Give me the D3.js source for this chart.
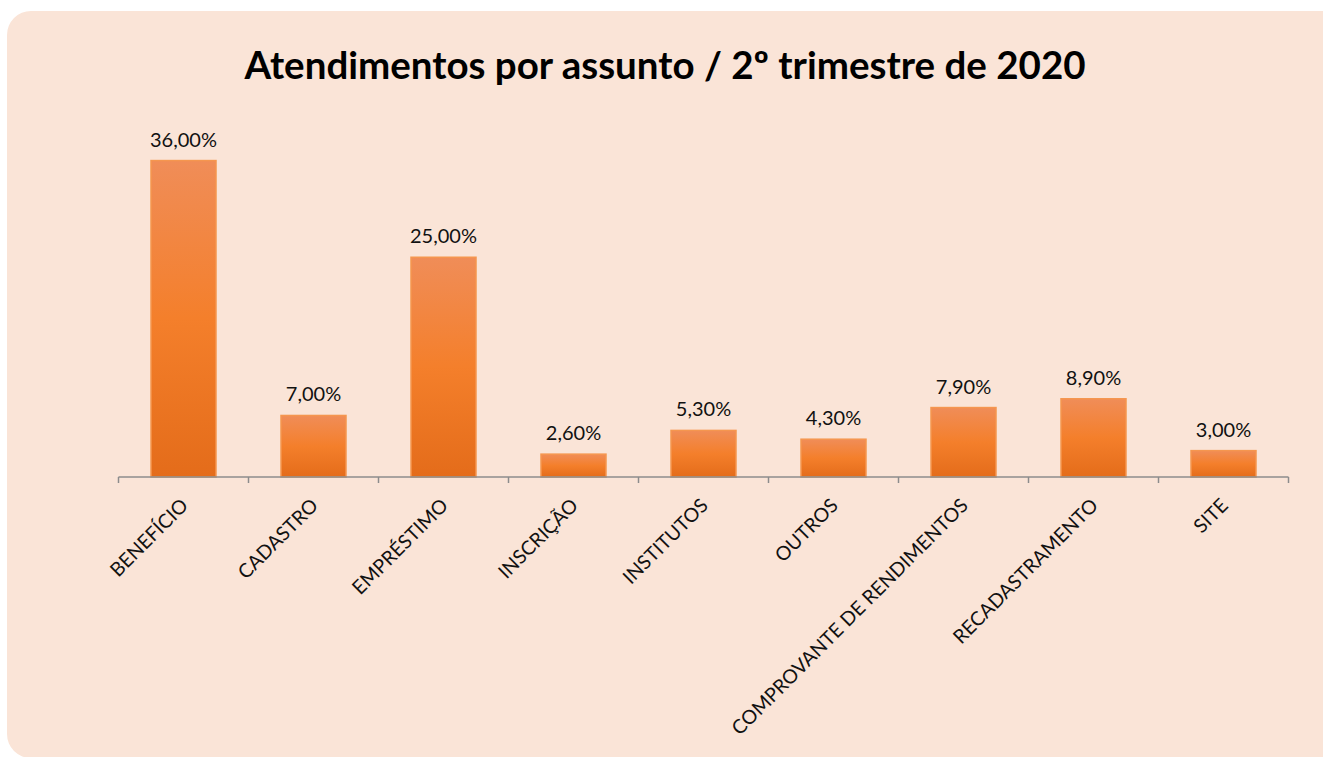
<!DOCTYPE html>
<html>
<head>
<meta charset="utf-8">
<script src="https://cdn.jsdelivr.net/npm/d3@7"></script>
<style>
  html, body { margin: 0; padding: 0; background: #ffffff; }
  svg { display: block; }
</style>
</head>
<body>
<svg id="chart"></svg>
<script>
// Atendimentos por assunto - 2º trimestre de 2020

const categorias = ["BENEFÍCIO", "CADASTRO", "EMPRÉSTIMO", "INSCRIÇÃO", "INSTITUTOS",
    "OUTROS", "COMPROVANTE DE RENDIMENTOS", "RECADASTRAMENTO", "SITE"];
const valores = [0.36, 0.07, 0.25, 0.026, 0.053, 0.043, 0.079, 0.089, 0.03];
const titulo = "Atendimentos por assunto / 2º trimestre de 2020";

const width = 1323;
const height = 757;
const margin = { top: 125.4, left: 118.5, right: 34.5, bottom: 280 };
const baseY = 477;

const svg = d3.select("#chart")
    .attr("width", width)
    .attr("height", height);

// Fond arrondi
svg.append("rect")
    .attr("x", 7)
    .attr("y", 11)
    .attr("width", width + 20)
    .attr("height", height - 11 + 1)
    .attr("rx", 24)
    .attr("fill", "#fae4d7");

// Dégradé des barres
const grad = svg.append("defs").append("linearGradient")
    .attr("id", "barGrad")
    .attr("x1", 0).attr("y1", 0).attr("x2", 0).attr("y2", 1);
grad.append("stop").attr("offset", "0%").attr("stop-color", "#f08d58");
grad.append("stop").attr("offset", "50%").attr("stop-color", "#f47f2b");
grad.append("stop").attr("offset", "100%").attr("stop-color", "#e46c1a");

// Titre
svg.append("text")
    .attr("x", 665)
    .attr("y", 79)
    .attr("text-anchor", "middle")
    .style("font-family", "Lato, 'Open Sans', sans-serif")
    .style("font-weight", "bold")
    .style("font-size", "38.5px")
    .attr("fill", "#000")
    .text(titulo);

// Echelles
const x = d3.scaleBand()
    .domain(categorias)
    .range([margin.left, width - margin.right])
    .paddingInner(0)
    .paddingOuter(0);

const y = d3.scaleLinear()
    .domain([0, 0.4])
    .range([baseY, margin.top]);

const barW = x.bandwidth() / 2;

// Barres
svg.selectAll(".bar")
    .data(categorias)
    .enter()
    .append("rect")
    .attr("class", "bar")
    .attr("x", d => x(d) + x.bandwidth() / 2 - barW / 2)
    .attr("y", (d, i) => y(valores[i]))
    .attr("width", barW)
    .attr("height", (d, i) => baseY - y(valores[i]))
    .attr("fill", "url(#barGrad)")
    .attr("stroke", "#f5964f")
    .attr("stroke-width", 1.5);

// Axe horizontal
svg.append("line")
    .attr("x1", x.range()[0])
    .attr("x2", x.range()[1])
    .attr("y1", baseY)
    .attr("y2", baseY)
    .attr("stroke", "#8c8c8c")
    .attr("stroke-width", 1.5);

const tickPos = categorias.map(d => x(d)).concat([x.range()[1]]);
svg.selectAll(".tick")
    .data(tickPos)
    .enter()
    .append("line")
    .attr("x1", d => d)
    .attr("x2", d => d)
    .attr("y1", baseY)
    .attr("y2", baseY + 6)
    .attr("stroke", "#8c8c8c")
    .attr("stroke-width", 1.5);

// Etiquettes de valeurs
const fmt = v => (v * 100).toFixed(2).replace(".", ",") + "%";
svg.selectAll(".val")
    .data(categorias)
    .enter()
    .append("text")
    .attr("class", "val")
    .attr("x", d => x(d) + x.bandwidth() / 2)
    .attr("y", (d, i) => y(valores[i]) - 14)
    .attr("text-anchor", "middle")
    .style("font-family", "Lato, 'Open Sans', sans-serif")
    .style("font-size", "20px")
    .attr("fill", "#111")
    .text((d, i) => fmt(valores[i]));

// Etiquettes de catégories (45°)
svg.selectAll(".cat")
    .data(categorias)
    .enter()
    .append("text")
    .attr("class", "cat")
    .attr("transform", d => `translate(${x(d) + x.bandwidth() / 2 + 1},${baseY + 25}) rotate(-45)`)
    .attr("text-anchor", "end")
    .attr("dy", "0.35em")
    .style("font-family", "Lato, 'Open Sans', sans-serif")
    .style("font-size", "19.5px")
    .attr("fill", "#111")
    .text(d => d);
</script>
</body>
</html>
